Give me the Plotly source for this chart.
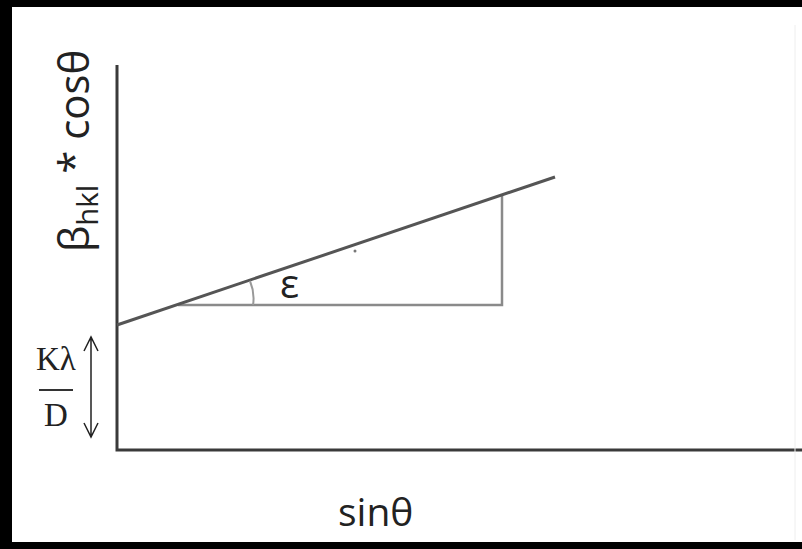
import plotly.graph_objects as go

# Williamson-Hall style sketch: beta_hkl*cos(theta) versus sin(theta)
sin_theta = [0, 438]
beta_cos = [125, 273]

# slope triangle (epsilon)
tri_x = [61, 385, 385]
tri_y = [145, 145, 255]

# axes extents
y_axis_x = [0, 0, 685]
y_axis_y = [385, 0, 0]

fig = go.Figure()

fig.add_trace(go.Scatter(x=y_axis_x, y=y_axis_y, mode="lines",
                         line=dict(color="#3a3a3a", width=3), hoverinfo="skip"))
fig.add_trace(go.Scatter(x=tri_x, y=tri_y, mode="lines",
                         line=dict(color="#8a8a8a", width=2.5), hoverinfo="skip"))
fig.add_trace(go.Scatter(x=sin_theta, y=beta_cos, mode="lines",
                         line=dict(color="#555555", width=3), hoverinfo="skip"))
fig.add_trace(go.Scatter(x=[238], y=[199], mode="markers",
                         marker=dict(color="#777777", size=3), hoverinfo="skip"))

shapes = [
    # angle arc for epsilon
    dict(type="path", xref="x", yref="y",
         path="M 136 145 Q 138 157 133 169",
         line=dict(color="#999999", width=2)),
    # Kλ/D fraction bar
    dict(type="line", xref="x", yref="y", x0=-78, x1=-44, y0=60, y1=60,
         line=dict(color="#333333", width=2)),
    # double-headed arrow marking the intercept
    dict(type="path", xref="x", yref="y",
         path="M -26 14 L -26 112 M -33 99 L -26 113 L -19 99 M -33 27 L -26 13 L -19 27",
         line=dict(color="#222222", width=1.5)),
    # frame
    dict(type="rect", xref="x", yref="y", x0=-117, x1=685, y0=450, y1=443,
         fillcolor="black", line=dict(width=0), layer="above"),
    dict(type="rect", xref="x", yref="y", x0=-117, x1=-105, y0=450, y1=-99,
         fillcolor="black", line=dict(width=0), layer="above"),
    dict(type="rect", xref="x", yref="y", x0=-117, x1=685, y0=-92, y1=-99,
         fillcolor="black", line=dict(width=0), layer="above"),
    dict(type="line", xref="x", yref="y", x0=678, x1=678, y0=425, y1=-90,
         line=dict(color="#eeeeee", width=1)),
]

annotations = [
    dict(x=-42, y=299, text="β<sub>hkl</sub> * cosθ", textangle=-90, showarrow=False,
         font=dict(family="Open Sans", size=42, color="#222222")),
    dict(x=258, y=-60, text="sinθ", showarrow=False,
         font=dict(family="Open Sans", size=39, color="#222222")),
    dict(x=172, y=168, text="ε", showarrow=False,
         font=dict(family="Open Sans", size=40, color="#222222")),
    dict(x=-61, y=91, text="Kλ", showarrow=False,
         font=dict(family="Liberation Serif", size=33, color="#222222")),
    dict(x=-61, y=35, text="D", showarrow=False,
         font=dict(family="Liberation Serif", size=33, color="#222222")),
]

fig.update_layout(
    width=802, height=549,
    margin=dict(l=0, r=0, t=0, b=0),
    paper_bgcolor="white", plot_bgcolor="white",
    showlegend=False,
    xaxis=dict(range=[-117, 685], visible=False, fixedrange=True),
    yaxis=dict(range=[-99, 450], visible=False, fixedrange=True),
    shapes=shapes,
    annotations=annotations,
)

fig.write_html("out.html")
